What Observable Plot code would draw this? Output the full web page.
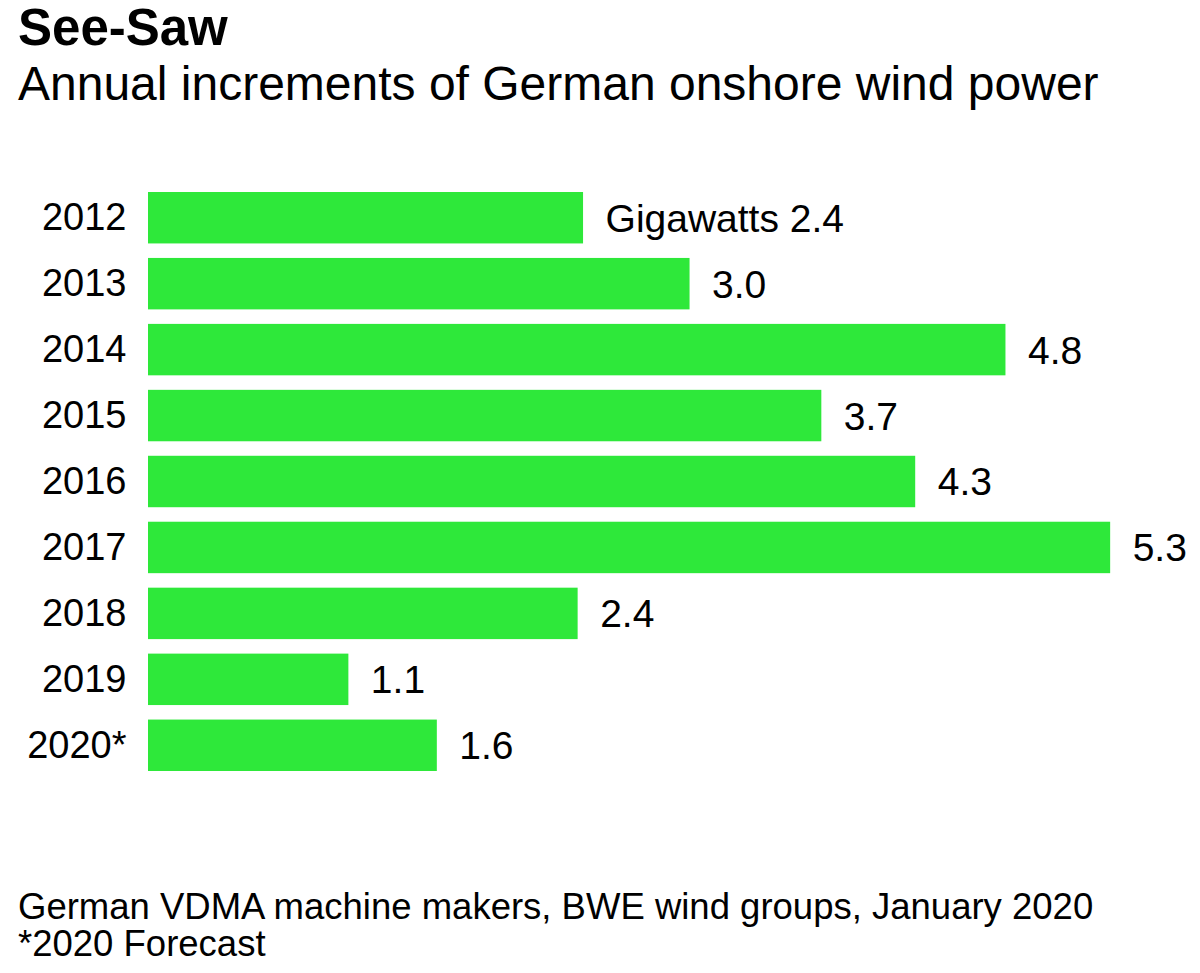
<!DOCTYPE html>
<html>
<head>
<meta charset="utf-8">
<script src="https://cdn.jsdelivr.net/npm/d3@7"></script>
<script src="https://cdn.jsdelivr.net/npm/@observablehq/plot@0.6"></script>
<style>
  body { margin: 0; background: #fff; font-family: "Liberation Sans", Arial, sans-serif; color: #000; width: 1200px; }
  #header { height: 110px; padding-left: 18px; box-sizing: border-box; }
  #title { font-size: 51px; font-weight: bold; line-height: 49px; padding-top: 3px; }
  #subtitle { font-size: 48px; line-height: 48px; margin-top: 8px; }
  #footer { padding-left: 18px; padding-top: 8px; font-size: 36.5px; line-height: 37px; }
  svg { display: block; }
</style>
</head>
<body>
<div id="header">
  <div id="title">See-Saw</div>
  <div id="subtitle">Annual increments of German onshore wind power</div>
</div>
<div id="chart"></div>
<div id="footer">
  <div>German VDMA machine makers, BWE wind groups, January 2020</div>
  <div>*2020 Forecast</div>
</div>
<script>
const years = ["2012", "2013", "2014", "2015", "2016", "2017", "2018", "2019", "2020*"];
const values = [2.41, 3.0, 4.75, 3.73, 4.25, 5.33, 2.38, 1.11, 1.6];
const labels = ["Gigawatts 2.4", "3.0", "4.8", "3.7", "4.3", "5.3", "2.4", "1.1", "1.6"];

const data = years.map((y, i) => ({year: y, value: values[i], label: labels[i]}));

const chart = Plot.plot({
  width: 1200,
  height: 770,
  marginTop: 82,
  marginBottom: 109,
  marginLeft: 148,
  marginRight: 5,
  style: {fontFamily: "Liberation Sans, Arial, sans-serif", fontSize: "38px", color: "#000", background: "#fff"},
  x: {domain: [0, 5.8], axis: null},
  y: {domain: years, paddingInner: 0.22, paddingOuter: 0, round: false, label: null, tickSize: 0, tickPadding: 22},
  marks: [
    Plot.barX(data, {y: "year", x: "value", fill: "#2ee83a"}),
    Plot.text(data, {y: "year", x: "value", text: "label", dx: 22, dy: 1, textAnchor: "start", fontSize: 39, fill: "#000"})
  ]
});
document.getElementById("chart").appendChild(chart);
</script>
</body>
</html>
